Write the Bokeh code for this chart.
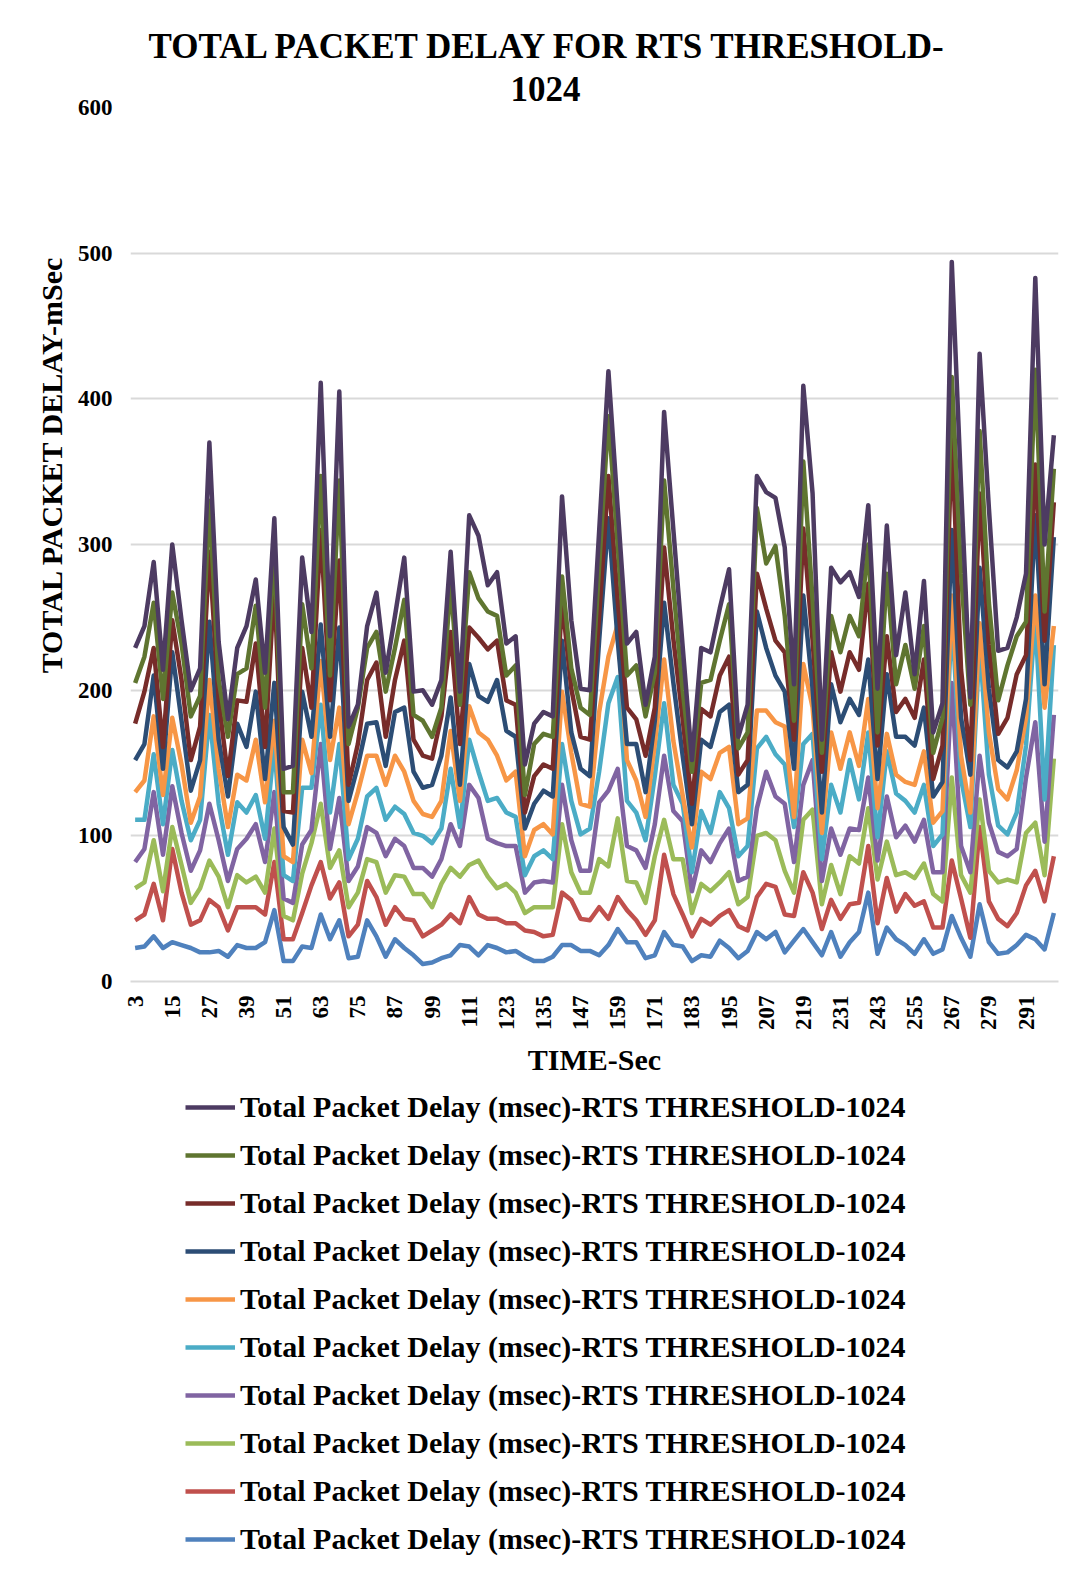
import math
from bokeh.plotting import figure
from bokeh.layouts import column
from bokeh.models import (ColumnDataSource, Legend, LegendItem, FixedTicker,
                          Range1d, Title)
from bokeh.core.properties import value
from bokeh.embed import file_html
from bokeh.resources import INLINE

# ---------------- data ----------------
time_sec = list(range(3, 301, 3))
x_tick_values = list(range(3, 292, 12))
y_tick_values = [0, 100, 200, 300, 400, 500, 600]

legend_label = "Total Packet Delay (msec)-RTS THRESHOLD-1024"

delay_dark_purple = [229, 244, 288, 214, 300, 248, 200, 215, 370, 233,
                     180, 229, 244, 276, 212, 318, 146, 148, 291, 240,
                     411, 237, 405, 175, 190, 244, 267, 212, 251, 291,
                     199, 200, 190, 207, 295, 199, 320, 306, 272, 281,
                     232, 237, 149, 177, 185, 182, 333, 248, 201, 200,
                     309, 419, 325, 232, 240, 190, 223, 391, 310, 230,
                     152, 229, 226, 256, 283, 168, 190, 347, 336, 332,
                     298, 204, 409, 335, 166, 284, 274, 281, 264, 327,
                     201, 313, 224, 267, 211, 275, 171, 191, 494, 340,
                     195, 431, 325, 227, 229, 250, 280, 483, 300, 375]

delay_dark_green = [205, 223, 260, 194, 267, 232, 182, 196, 330, 207,
                    168, 211, 215, 258, 188, 298, 130, 130, 259, 215,
                    347, 210, 344, 163, 188, 229, 240, 199, 229, 262,
                    183, 179, 168, 188, 273, 190, 281, 263, 254, 251,
                    210, 217, 128, 163, 170, 168, 278, 215, 188, 183,
                    285, 388, 300, 210, 217, 182, 212, 344, 270, 200,
                    144, 205, 207, 234, 259, 160, 171, 325, 287, 299,
                    251, 179, 357, 262, 157, 251, 226, 251, 237, 300,
                    171, 280, 204, 231, 201, 244, 157, 181, 415, 280,
                    190, 378, 260, 193, 217, 237, 247, 420, 254, 352]

delay_dark_red = [177, 199, 229, 161, 248, 207, 152, 175, 295, 193,
                  141, 193, 192, 232, 161, 273, 117, 116, 229, 188,
                  310, 193, 289, 135, 163, 207, 219, 168, 207, 234,
                  166, 155, 153, 182, 240, 163, 243, 236, 228, 234,
                  193, 190, 116, 141, 149, 146, 262, 201, 168, 166,
                  251, 347, 262, 188, 180, 155, 188, 298, 235, 180,
                  122, 187, 182, 210, 223, 142, 152, 280, 256, 234,
                  226, 166, 311, 234, 144, 226, 199, 226, 214, 273,
                  162, 237, 185, 194, 181, 221, 139, 162, 375, 214,
                  152, 335, 231, 170, 181, 211, 224, 355, 234, 329]

delay_navy = [152, 163, 210, 146, 226, 179, 131, 152, 247, 166,
              127, 177, 161, 199, 139, 205, 106, 94, 199, 168,
              245, 168, 243, 124, 148, 177, 178, 148, 185, 188,
              144, 133, 135, 155, 195, 135, 218, 196, 192, 207,
              172, 168, 105, 122, 131, 127, 234, 171, 146, 141,
              234, 318, 234, 163, 163, 130, 179, 260, 205, 155,
              108, 166, 161, 185, 190, 130, 135, 254, 229, 210,
              199, 146, 265, 201, 116, 204, 178, 194, 183, 221,
              139, 211, 168, 168, 162, 188, 127, 137, 310, 181,
              142, 284, 201, 152, 147, 158, 194, 320, 204, 305]

delay_orange = [130, 138, 182, 128, 181, 149, 109, 127, 207, 146,
                106, 142, 138, 166, 123, 179, 86, 82, 166, 143,
                220, 152, 188, 108, 130, 155, 155, 135, 155, 144,
                124, 115, 113, 124, 172, 124, 189, 171, 166, 155,
                138, 144, 86, 104, 108, 101, 199, 157, 122, 120,
                185, 223, 245, 152, 138, 113, 163, 221, 165, 128,
                92, 144, 139, 157, 161, 108, 112, 186, 186, 178,
                175, 113, 218, 188, 102, 171, 146, 171, 148, 194,
                119, 170, 142, 137, 135, 158, 109, 117, 265, 155,
                116, 246, 171, 132, 125, 145, 181, 265, 188, 244]

delay_cyan = [111, 111, 156, 108, 159, 124, 97, 111, 183, 122,
              87, 123, 116, 128, 98, 163, 73, 69, 133, 133,
              190, 116, 163, 84, 98, 127, 133, 111, 120, 115,
              102, 100, 95, 105, 146, 106, 166, 144, 124, 126,
              116, 113, 73, 86, 90, 84, 163, 124, 101, 105,
              144, 191, 209, 124, 116, 97, 141, 191, 135, 122,
              75, 117, 102, 130, 119, 86, 93, 160, 168, 156,
              149, 106, 163, 170, 84, 135, 116, 152, 125, 171,
              99, 158, 129, 124, 116, 135, 93, 101, 252, 139,
              106, 232, 142, 107, 101, 116, 162, 250, 125, 231]

delay_purple = [82, 91, 130, 87, 134, 102, 76, 90, 122, 97,
                69, 91, 98, 108, 82, 130, 57, 54, 94, 104,
                163, 91, 126, 69, 79, 106, 102, 86, 98, 93,
                78, 78, 72, 84, 108, 93, 135, 126, 98, 95,
                93, 93, 61, 68, 69, 68, 135, 97, 76, 76,
                123, 131, 146, 93, 90, 78, 108, 155, 117, 110,
                62, 90, 82, 95, 105, 69, 72, 119, 144, 127,
                122, 82, 135, 152, 69, 105, 87, 105, 104, 140,
                83, 127, 99, 107, 96, 111, 75, 75, 205, 93,
                75, 155, 109, 89, 86, 91, 140, 178, 96, 183]

delay_light_green = [64, 68, 97, 62, 106, 80, 54, 64, 83, 72,
                     51, 73, 68, 72, 61, 105, 45, 42, 74, 95,
                     122, 78, 90, 51, 61, 84, 82, 61, 73, 72,
                     60, 60, 51, 67, 78, 72, 80, 83, 72, 64,
                     67, 61, 47, 51, 51, 51, 108, 75, 61, 61,
                     84, 79, 112, 69, 68, 54, 86, 111, 84, 84,
                     47, 67, 62, 68, 75, 53, 58, 100, 102, 97,
                     76, 61, 111, 118, 53, 80, 60, 86, 81, 119,
                     70, 96, 73, 75, 71, 81, 60, 55, 140, 73,
                     61, 125, 76, 68, 70, 68, 102, 109, 73, 153]

delay_red = [42, 46, 67, 42, 91, 61, 39, 42, 56, 51,
             35, 51, 51, 51, 46, 82, 29, 29, 47, 66,
             82, 57, 68, 31, 39, 69, 58, 39, 51, 43,
             42, 31, 35, 39, 46, 40, 58, 46, 43, 43,
             40, 40, 35, 34, 31, 32, 61, 56, 43, 42,
             51, 43, 58, 49, 42, 32, 42, 87, 60, 46,
             31, 43, 39, 45, 49, 38, 35, 58, 67, 65,
             46, 45, 75, 61, 36, 56, 43, 53, 54, 93,
             40, 71, 48, 60, 52, 55, 37, 37, 83, 57,
             30, 106, 55, 43, 38, 47, 66, 76, 55, 86]

delay_blue = [23, 24, 31, 23, 27, 25, 23, 20, 20, 21,
              17, 25, 23, 23, 27, 49, 14, 14, 24, 23,
              46, 29, 42, 16, 17, 42, 31, 17, 29, 23,
              18, 12, 13, 16, 18, 25, 24, 18, 25, 23,
              20, 21, 17, 14, 14, 17, 25, 25, 21, 21,
              18, 25, 36, 27, 27, 16, 18, 34, 25, 24,
              14, 18, 17, 28, 23, 16, 21, 34, 29, 34,
              20, 28, 36, 27, 18, 34, 17, 27, 34, 61,
              19, 37, 29, 25, 19, 29, 19, 22, 45, 30,
              17, 53, 27, 19, 20, 25, 32, 29, 22, 47]

# legend order (top to bottom) with colours
series = [
    ("delay_dark_purple", delay_dark_purple, "#4D3B62"),
    ("delay_dark_green", delay_dark_green, "#5F7530"),
    ("delay_dark_red", delay_dark_red, "#772C2A"),
    ("delay_navy", delay_navy, "#2C4D75"),
    ("delay_orange", delay_orange, "#F79646"),
    ("delay_cyan", delay_cyan, "#4BACC6"),
    ("delay_purple", delay_purple, "#8064A2"),
    ("delay_light_green", delay_light_green, "#9BBB59"),
    ("delay_red", delay_red, "#C0504D"),
    ("delay_blue", delay_blue, "#4F81BD"),
]

data = {"time_sec": time_sec}
for name, vals, _ in series:
    data[name] = vals
source = ColumnDataSource(data)

FONT = "Liberation Serif"
LINE_W = 4.5

# ---------------- chart ----------------
p = figure(width=1071, height=1081, title=None,
           x_range=Range1d(1.5, 301.5), y_range=Range1d(0, 600),
           output_backend="svg", toolbar_location=None,
           min_border_left=130, min_border_right=13,
           min_border_top=107, min_border_bottom=100,
           background_fill_color="white", border_fill_color="white")
p.outline_line_color = None

p.xgrid.visible = False
p.ygrid.grid_line_color = "#D9D9D9"
p.ygrid.grid_line_width = 2
p.ygrid.ticker = FixedTicker(ticks=y_tick_values)

p.yaxis.ticker = FixedTicker(ticks=y_tick_values)
p.xaxis.ticker = FixedTicker(ticks=x_tick_values)
for ax in (p.xaxis[0], p.yaxis[0]):
    ax.axis_line_color = None
    ax.major_tick_line_color = None
    ax.minor_tick_line_color = None
    ax.major_tick_out = 0
    ax.major_tick_in = 0
    ax.minor_tick_out = 0
    ax.major_label_text_font = FONT
    ax.major_label_text_font_style = "bold"
    ax.major_label_text_font_size = "23px"
    ax.major_label_text_color = "black"
p.xaxis.axis_line_color = "#D9D9D9"
p.xaxis.axis_line_width = 2
p.yaxis.major_label_standoff = 18
p.xaxis.major_label_standoff = 14
p.xaxis.major_label_orientation = math.pi / 2
p.xaxis.axis_label = "TIME-Sec"
p.xaxis.axis_label_text_font = FONT
p.xaxis.axis_label_text_font_style = "bold"
p.xaxis.axis_label_text_font_size = "30px"
p.xaxis.axis_label_text_color = "black"
p.xaxis.axis_label_standoff = 10

# lines: draw blue first, dark purple last
for name, _, color in reversed(series):
    p.line("time_sec", name, source=source, line_color=color,
           line_width=LINE_W, line_join="round")

# titles (first added sits closest to the plot area)
p.add_layout(Title(text="1024", align="left", offset=380, standoff=13,
                   text_font=FONT, text_font_style="bold",
                   text_font_size="35px", text_color="black"), "above")
p.add_layout(Title(text="TOTAL PACKET DELAY FOR RTS THRESHOLD-", align="left",
                   offset=18, standoff=6,
                   text_font=FONT, text_font_style="bold",
                   text_font_size="35px", text_color="black"), "above")
p.add_layout(Title(text="TOTAL PACKET DELAY-mSec", align="right", offset=148,
                   standoff=13,
                   text_font=FONT, text_font_style="bold",
                   text_font_size="30px", text_color="black"), "left")

# ---------------- legend panel ----------------
# the key lines reuse the same series; this panel's ranges keep them out of view,
# so only their legend samples are drawn
lg = figure(width=1071, height=489, title=None,
            x_range=Range1d(-2, -1), y_range=Range1d(-2, -1),
            x_axis_type=None, y_axis_type=None,
            output_backend="svg", toolbar_location=None,
            min_border=0, background_fill_color="white",
            border_fill_color="white")
lg.outline_line_color = None
lg.xgrid.visible = False
lg.ygrid.visible = False

items = []
for name, _, color in series:
    key = lg.line("time_sec", name, source=source, line_color=color,
                  line_width=LINE_W)
    items.append(LegendItem(label=value(legend_label), renderers=[key]))

legend = Legend(items=items, location=(55, 11), orientation="vertical",
                padding=0, margin=0, spacing=8,
                glyph_width=50, glyph_height=40, label_height=40,
                label_standoff=5,
                label_text_font=FONT, label_text_font_style="bold",
                label_text_font_size="30px", label_text_color="black",
                border_line_color=None, background_fill_alpha=0)
lg.add_layout(legend)

layout = column(p, lg, spacing=0)
open("out.html", "w").write(file_html(layout, INLINE))
